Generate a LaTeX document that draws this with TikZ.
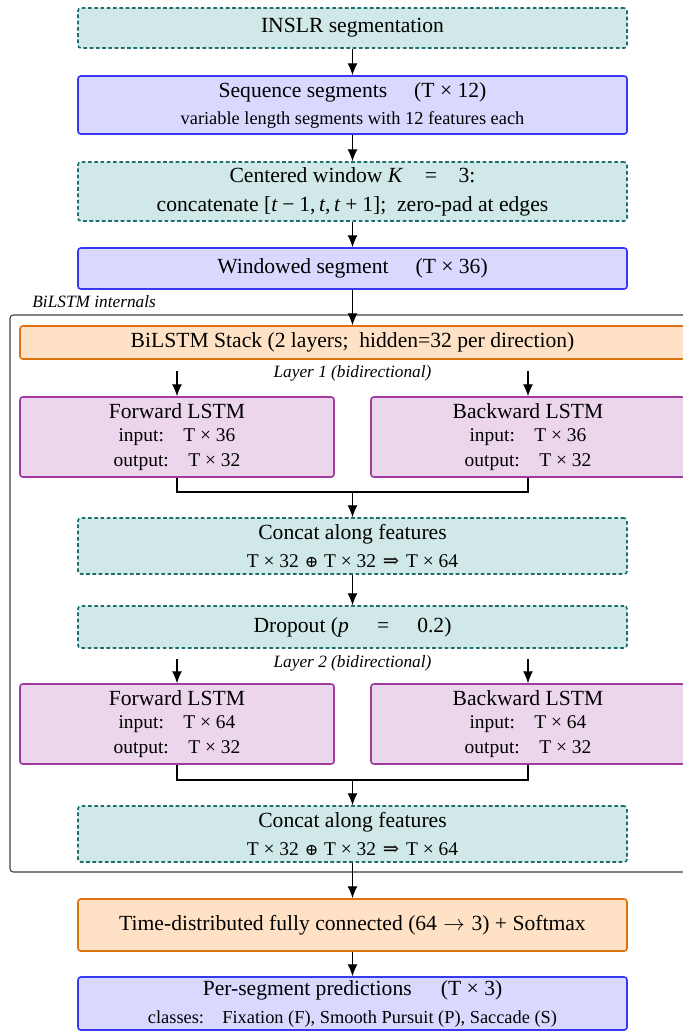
\documentclass[tikz,border=0pt]{standalone}
\usepackage{fontspec}
\setmainfont{Liberation Serif}
\newfontfamily\symf{DejaVu Serif}
\usetikzlibrary{arrows.meta}

\definecolor{tealfill}{HTML}{D1E8E8}
\definecolor{tealline}{HTML}{1F6E6E}
\definecolor{bluefill}{HTML}{D9D9FF}
\definecolor{blueline}{HTML}{3838F0}
\definecolor{orfill}{HTML}{FFE2C6}
\definecolor{orline}{HTML}{DD7410}
\definecolor{vifill}{HTML}{ECD6EC}
\definecolor{viline}{HTML}{A23AA2}

\def\U{0.4629pt}

\tikzset{
  base/.style={rectangle, rounded corners=1.3pt, line width=0.75pt, align=center,
    inner sep=0pt, font=\fontsize{10}{12}\selectfont},
  tealbox/.style={base, draw=tealline, fill=tealfill, dash pattern=on 1.7pt off 1.2pt},
  bluebox/.style={base, draw=blueline, fill=bluefill},
  orbox/.style={base, draw=orline, fill=orfill},
  vibox/.style={base, draw=viline, fill=vifill, minimum width=314*\U, minimum height=80*\U},
  wide/.style={minimum width=549*\U},
  note/.style={font=\fontsize{8}{9.6}\selectfont\itshape, inner sep=0pt},
  arr/.style={-{Latex[length=5.5pt,width=4.6pt]}, line width=0.5pt, black},
  link/.style={line width=0.5pt, black},
  frame/.style={draw=black!75, line width=0.5pt, rounded corners=1.5pt},
}
% small second lines, dimension products and operator glyphs
\newcommand{\sm}{\fontsize{8.5}{10.2}\selectfont}
\newcommand{\io}{\fontsize{9}{10.8}\selectfont}
\newcommand{\by}{\hspace{0.25em}×\hspace{0.25em}}
\newcommand{\op}[1]{\hspace{0.3em}{\symf\fontsize{7.5}{9}\selectfont #1}\hspace{0.3em}}
\newcommand{\rel}[1]{\hspace{0.35em}{\symf #1}\hspace{0.35em}}

\begin{document}
\begin{tikzpicture}[x=0.4629pt, y=-0.4629pt]
\useasboundingbox (0,0) rectangle (683,1033);

% input pipeline
\node[tealbox, wide, minimum height=40*\U] (inslr) at (352.5,28) {INSLR segmentation};
\node[bluebox, wide, minimum height=58*\U] (seq) at (352.5,105)
  {Sequence segments\hspace{1.25em}(T\by 12)\\[0.5pt]
   {\sm variable length segments with 12 features each}};
\node[tealbox, wide, minimum height=59*\U] (win) at (352.5,191.5)
  {Centered window \textit{K}\quad=\quad 3:\\[1.5pt]
   concatenate [\textit{t}\hspace{0.22em}−\hspace{0.22em}1,\,\textit{t},\,\textit{t}\hspace{0.22em}+\hspace{0.22em}1];\ \ zero-pad at edges};
\node[bluebox, wide, minimum height=41*\U] (wseg) at (352.5,268.5)
  {Windowed segment\hspace{1.25em}(T\by 36)};

% BiLSTM block
\draw[frame] (10,315) rectangle (695,872);
\node[note, anchor=base west] (flab) at (32,307) {BiLSTM internals};
\node[orbox, minimum width=665*\U, minimum height=33*\U] (stack) at (352.5,342.5)
  {BiLSTM Stack (2 layers;\ \ hidden=32 per direction)};

% layer 1
\node[note] (l1) at (352.5,373) {Layer 1 (bidirectional)};
\coordinate (f1in) at (177,371);
\coordinate (b1in) at (528,371);
\node[vibox] (f1) at (177,437)
  {Forward LSTM\\[-1pt]{\io input:\quad T\by 36}\\[-0.5pt]{\io output:\quad T\by 32}};
\node[vibox] (b1) at (528,437)
  {Backward LSTM\\[-1pt]{\io input:\quad T\by 36}\\[-0.5pt]{\io output:\quad T\by 32}};
\coordinate (m1) at (352.5,492);
\node[tealbox, wide, minimum height=56*\U] (c1) at (352.5,546)
  {Concat along features\\[1pt]
   {\io T\by 32\op{⊕}T\by 32\rel{⇒}T\by 64}};
\node[tealbox, wide, minimum height=42*\U] (drop) at (352.5,627)
  {Dropout (\textit{p}\hspace{1.3em}=\hspace{1.3em}0.2)};

% layer 2
\node[note] (l2) at (352.5,663) {Layer 2 (bidirectional)};
\coordinate (f2in) at (177,659);
\coordinate (b2in) at (528,659);
\node[vibox] (f2) at (177,724)
  {Forward LSTM\\[-1pt]{\io input:\quad T\by 64}\\[-0.5pt]{\io output:\quad T\by 32}};
\node[vibox] (b2) at (528,724)
  {Backward LSTM\\[-1pt]{\io input:\quad T\by 64}\\[-0.5pt]{\io output:\quad T\by 32}};
\coordinate (m2) at (352.5,780);
\node[tealbox, wide, minimum height=56*\U] (c2) at (352.5,834)
  {Concat along features\\[1pt]
   {\io T\by 32\op{⊕}T\by 32\rel{⇒}T\by 64}};

% output head
\node[orbox, wide, minimum height=52*\U] (fc) at (352.5,925)
  {Time-distributed fully connected (64\hspace{0.3em}$\rightarrow$\hspace{0.3em}3) + Softmax};
\node[bluebox, wide, minimum height=53*\U] (pred) at (352.5,1003.5)
  {Per-segment predictions\hspace{1.35em}(T\by 3)\\[1pt]
   {\sm classes:\quad Fixation (F), Smooth Pursuit (P), Saccade (S)}};

% connectors
\draw[arr] (inslr) -- (seq);
\draw[arr] (seq) -- (win);
\draw[arr] (win) -- (wseg);
\draw[arr] (wseg) -- (stack);
\draw[arr] (f1in) -- (f1);
\draw[arr] (b1in) -- (b1);
\draw[link] (f1.south) |- (m1) -| (b1.south);
\draw[arr] (m1) -- (c1);
\draw[arr] (c1) -- (drop);
\draw[arr] (f2in) -- (f2);
\draw[arr] (b2in) -- (b2);
\draw[link] (f2.south) |- (m2) -| (b2.south);
\draw[arr] (m2) -- (c2);
\draw[arr] (c2) -- (fc);
\draw[arr] (fc) -- (pred);
\end{tikzpicture}
\end{document}
